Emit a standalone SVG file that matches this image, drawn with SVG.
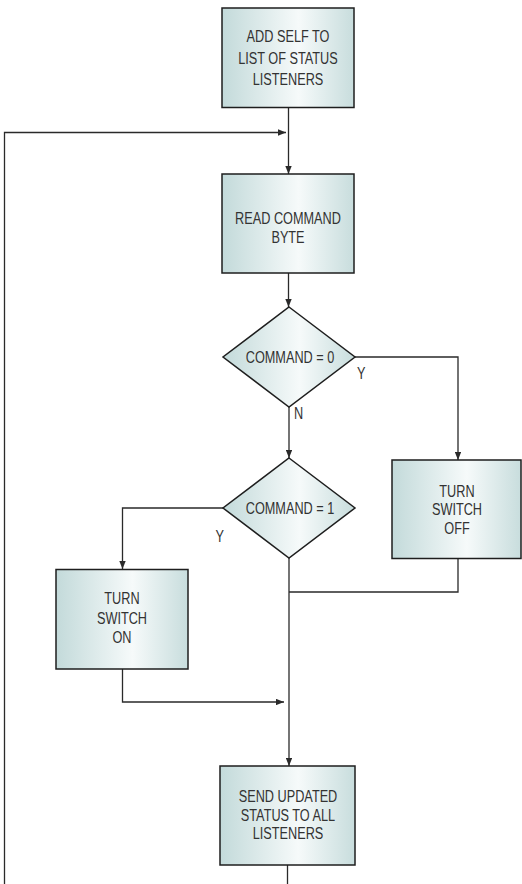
<svg xmlns="http://www.w3.org/2000/svg" width="522" height="884" viewBox="0 0 522 884">
  <defs>
    <linearGradient id="fill" x1="0" y1="0" x2="1" y2="0">
      <stop offset="0" stop-color="#c3dada"/>
      <stop offset="0.58" stop-color="#f6fafa"/>
      <stop offset="1" stop-color="#c8dddd"/>
    </linearGradient>
    <marker id="arrow" viewBox="0 0 10 8" refX="10" refY="4" markerWidth="8" markerHeight="6.4" markerUnits="userSpaceOnUse" orient="auto">
      <path d="M0,0 L10,4 L0,8 Z" fill="#2a2a2a"/>
    </marker>
    <style>
      .box { fill: url(#fill); stroke: #1e1e1e; stroke-width: 1.5; }
      .lbl { font-family: "Liberation Sans", Arial, sans-serif; font-size: 16.5px; fill: #333; text-anchor: middle; }
      .tag { font-family: "Liberation Sans", Arial, sans-serif; font-size: 16.5px; fill: #333; }
      .wire { fill: none; stroke: #2a2a2a; stroke-width: 1.3; }
      .wire.arr { marker-end: url(#arrow); }
    </style>
  </defs>

  <!-- connectors; condensed lettering is the regular face squeezed horizontally -->
  <g id="connectors">
    <path class="wire arr" d="M288.5,107 V174"/>
    <path class="wire arr" d="M4.5,884 V132.5 H286"/>
    <path class="wire arr" d="M288.5,273 V307"/>
    <path class="wire arr" d="M355,357 H458 V460"/>
    <path class="wire arr" d="M289,407 V458"/>
    <path class="wire arr" d="M223,508 H122.5 V569"/>
    <path class="wire arr" d="M289,558 V766"/>
    <path class="wire" d="M458,558 V592 H289"/>
    <path class="wire arr" d="M122.5,669 V702 H284"/>
    <path class="wire" d="M287.5,865 V884"/>
    <text class="tag" transform="translate(357,378.5) scale(0.77,1)">Y</text>
    <text class="tag" transform="translate(294,418.5) scale(0.77,1)">N</text>
    <text class="tag" transform="translate(215.5,541.5) scale(0.77,1)">Y</text>
  </g>

  <g id="add-listener">
    <rect class="box" x="222" y="8" width="132" height="99.5"/>
    <text class="lbl" transform="translate(288,42) scale(0.77,1)">ADD SELF TO</text>
    <text class="lbl" transform="translate(288,63.5) scale(0.77,1)">LIST OF STATUS</text>
    <text class="lbl" transform="translate(288,85) scale(0.77,1)">LISTENERS</text>
  </g>

  <g id="read-command">
    <rect class="box" x="222" y="174" width="132" height="99"/>
    <text class="lbl" transform="translate(288,223.5) scale(0.77,1)">READ COMMAND</text>
    <text class="lbl" transform="translate(288,242.5) scale(0.77,1)">BYTE</text>
  </g>

  <g id="is-zero">
    <polygon class="box" points="289,307 355,357 289,407 223,357"/>
    <text class="lbl" transform="translate(290,362.5) scale(0.77,1)">COMMAND = 0</text>
  </g>

  <g id="is-one">
    <polygon class="box" points="289,458 355,508 289,558 223,508"/>
    <text class="lbl" transform="translate(290,514) scale(0.77,1)">COMMAND = 1</text>
  </g>

  <g id="switch-off">
    <rect class="box" x="392" y="460" width="129" height="98.5"/>
    <text class="lbl" transform="translate(457,496.5) scale(0.77,1)">TURN</text>
    <text class="lbl" transform="translate(457,515) scale(0.77,1)">SWITCH</text>
    <text class="lbl" transform="translate(457,533.5) scale(0.77,1)">OFF</text>
  </g>

  <g id="switch-on">
    <rect class="box" x="56" y="569.5" width="132" height="99.5"/>
    <text class="lbl" transform="translate(122,604) scale(0.77,1)">TURN</text>
    <text class="lbl" transform="translate(122,623.5) scale(0.77,1)">SWITCH</text>
    <text class="lbl" transform="translate(122,643) scale(0.77,1)">ON</text>
  </g>

  <g id="send-status">
    <rect class="box" x="220" y="766" width="135" height="99"/>
    <text class="lbl" transform="translate(288,802) scale(0.77,1)">SEND UPDATED</text>
    <text class="lbl" transform="translate(288,820.5) scale(0.77,1)">STATUS TO ALL</text>
    <text class="lbl" transform="translate(288,839) scale(0.77,1)">LISTENERS</text>
  </g>
</svg>
